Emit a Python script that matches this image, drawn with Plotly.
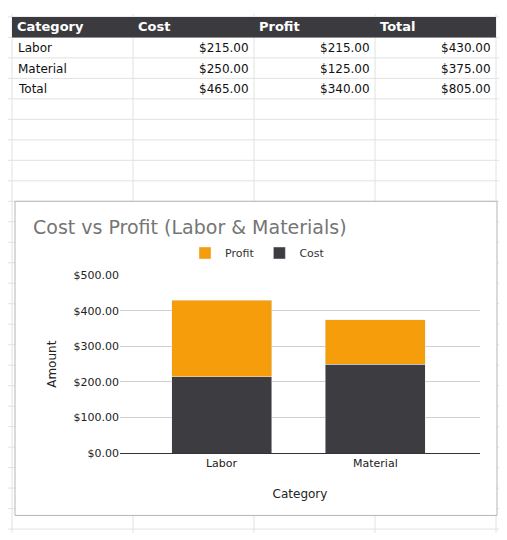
import plotly.graph_objects as go

# data
categories = ["Labor", "Material"]
cost = [215.0, 250.0]
profit = [215.0, 125.0]
header = ["Category", "Cost", "Profit", "Total"]
row_names = ["Labor", "Material", "Total"]
cost_col = cost + [sum(cost)]
profit_col = profit + [sum(profit)]
total_col = [c + p for c, p in zip(cost_col, profit_col)]

# page body has an 8px margin, so the figure is shifted and shrunk by that
OFF = 8
W, H = 507 - OFF, 540 - OFF
fx = lambda px: (px - OFF) / W
fy = lambda py: 1 - (py - OFF) / H

fig = go.Figure()
fig.add_trace(go.Bar(x=categories, y=cost, name="Cost", marker_color="#3d3c41"))
fig.add_trace(go.Bar(x=categories, y=profit, name="Profit", marker_color="#f59d0a"))

shapes = []
grid = "#e2e2e2"
# spreadsheet grid
for xv in [12, 133, 254, 375, 496]:
    shapes.append(dict(type="line", xref="paper", yref="paper", x0=fx(xv), x1=fx(xv), y0=0, y1=1,
                       line=dict(color=grid, width=1), layer="below"))
yv = 11
while yv < 540:
    shapes.append(dict(type="line", xref="paper", yref="paper", x0=0, x1=1, y0=fy(yv), y1=fy(yv),
                       line=dict(color=grid, width=1), layer="below"))
    yv += 21
# header band
shapes.append(dict(type="rect", xref="paper", yref="paper", x0=fx(12), x1=fx(496), y0=fy(32), y1=fy(11),
                   fillcolor="#3b3b3f", line=dict(width=0), layer="below"))
# chart box
shapes.append(dict(type="rect", xref="paper", yref="paper", x0=fx(15), x1=fx(497), y0=fy(522), y1=fy(200),
                   fillcolor="white", line=dict(color="#b5b5b5", width=1), layer="below"))

ann = []
font = dict(family="DejaVu Sans", size=12, color="#111")
for i, h in enumerate(header):
    ann.append(dict(text="<b>" + h + "</b>", x=fx([15, 136, 257, 378][i]), y=fy(21), xref="paper", yref="paper",
                    xanchor="left", yanchor="middle", showarrow=False,
                    font=dict(family="DejaVu Sans", size=13, color="white")))
for r, name in enumerate(row_names):
    yc = fy(43 + 21 * r)
    ann.append(dict(text=name, x=fx(16), y=yc, xref="paper", yref="paper", xanchor="left",
                    yanchor="middle", showarrow=False, font=font))
    for xr, col in zip([251, 372, 493], [cost_col, profit_col, total_col]):
        ann.append(dict(text=f"${col[r]:,.2f}", x=fx(xr), y=yc, xref="paper", yref="paper",
                        xanchor="right", yanchor="middle", showarrow=False, font=font))
ann.append(dict(text="Cost vs Profit (Labor &amp; Materials)", x=fx(31), y=fy(226), xref="paper", yref="paper",
                xanchor="left", yanchor="middle", showarrow=False,
                font=dict(family="DejaVu Sans", size=19, color="#757575")))

fig.update_layout(
    width=W, height=H, margin=dict(l=0, r=0, t=0, b=0),
    paper_bgcolor="white", plot_bgcolor="white",
    barmode="stack", bargap=0.35,
    shapes=shapes, annotations=ann,
    font=dict(family="DejaVu Sans", size=11, color="#222"),
    legend=dict(orientation="h", x=0.5, xanchor="center", y=fy(253), yanchor="middle",
                traceorder="reversed", font=dict(size=11, color="#333")),
    xaxis=dict(domain=[fx(120), fx(480)], range=[-0.66, 1.68], showline=True, linecolor="#333",
               ticks="", title=dict(text="Category", standoff=20, font=dict(size=12))),
    yaxis=dict(domain=[fy(458), fy(276)], range=[0, 500], dtick=100, tickformat="$,.2f",
               gridcolor="#d0d0d0", zeroline=False, ticks="",
               title=dict(text="Amount", standoff=14, font=dict(size=12))),
)
fig.write_html("out.html")
